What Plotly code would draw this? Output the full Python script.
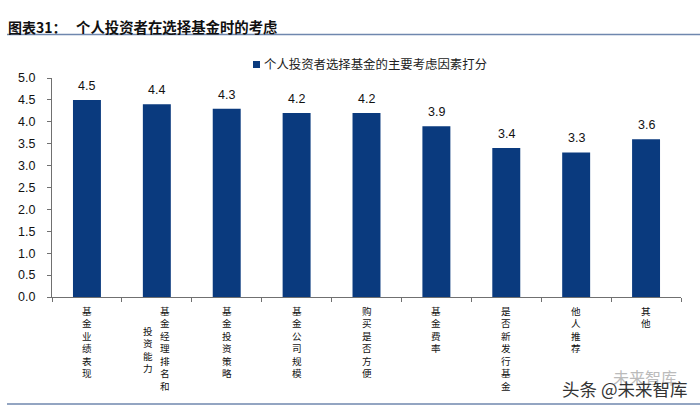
import plotly.graph_objects as go

categories = ["基金业绩表现", "基金经理排名和投资能力", "基金投资策略", "基金公司规模", "购买是否方便",
              "基金费率", "是否新发行基金", "他人推荐", "其他"]
label_main = ["基金业绩表现", "基金经理排名和", "基金投资策略", "基金公司规模", "购买是否方便",
              "基金费率", "是否新发行基金", "他人推荐", "其他"]
values = [4.5, 4.4, 4.3, 4.2, 4.2, 3.9, 3.4, 3.3, 3.6]
series_name = "个人投资者选择基金的主要考虑因素打分"
y_ticks = [0, 0.5, 1, 1.5, 2, 2.5, 3, 3.5, 4, 4.5, 5]

CJK = "Noto Sans CJK SC"
LAT = "Liberation Sans"
W, H = 700, 408
L, R, T, B = 52, 19, 78, 111
BAR = "#0A3A7E"
vert = lambda s: "<br>".join(s)
px = lambda v: (v - L) / (W - L - R)
py = lambda v: 1 - (v - T) / (H - T - B)

fig = go.Figure(go.Bar(x=categories, y=values, name=series_name, marker_color=BAR,
                       marker_line_width=0, showlegend=False))

ann = []
for c, m, v in zip(categories, label_main, values):
    two = m != c
    ann.append(dict(x=c, y=v, xref="x", yref="y", yanchor="bottom", xanchor="center", showarrow=False,
                    text=f"{v:.1f}", yshift=5, font=dict(family=LAT, size=12.5, color="#111111")))
    ann.append(dict(x=c, y=0, xref="x", yref="paper", yanchor="top", xanchor="center",
                    text=vert(m), showarrow=False, yshift=-5, xshift=8 if two else 0,
                    font=dict(family=CJK, size=9.6, color="#111111")))
    if two:
        ann.append(dict(x=c, y=0, xref="x", yref="paper", yanchor="top", xanchor="center",
                        text=vert(c[len(m):]), showarrow=False, yshift=-25, xshift=-9,
                        font=dict(family=CJK, size=9.6, color="#111111")))


def page_text(x, y, text, size, color, anchor="left", family=CJK):
    return dict(x=px(x), y=py(y), xref="paper", yref="paper", xanchor=anchor, yanchor="middle",
                showarrow=False, text=text, font=dict(family=family, size=size, color=color))


ann += [
    page_text(6, 27, "<b>图表31：</b>", 14, "#111111"),
    page_text(74, 27, "<b>个人投资者在选择基金时的考虑</b>", 14.4, "#111111"),
    page_text(262, 64, series_name, 12.4, "#222222"),
    page_text(645, 377, "未来智库", 16, "#BBBBBB", "center"),
    page_text(624, 388, "头条 @未来智库", 17.5, "#333333", "center"),
]

line_y = [34.5, 404]
shapes = [dict(type="line", xref="paper", yref="paper", x0=px(7), x1=px(W), y0=py(v), y1=py(v),
               line=dict(color="#6F87AE", width=1.5)) for v in line_y]
shapes.append(dict(type="rect", xref="paper", yref="paper", x0=px(253), x1=px(260), y0=py(68), y1=py(61),
                   fillcolor=BAR, line_width=0))

fig.update_layout(
    width=W, height=H, autosize=False, margin=dict(l=L, r=R, t=T, b=B),
    paper_bgcolor="white", plot_bgcolor="white", bargap=0.6,
    font=dict(family=CJK), showlegend=False,
    annotations=ann, shapes=shapes,
    xaxis=dict(type="category", range=[-0.5, 8.5], tickson="boundaries", ticks="outside", ticklen=4,
               tickcolor="#707070", linecolor="#707070", linewidth=1, showline=True, showticklabels=False,
               showgrid=False, zeroline=False, fixedrange=True),
    yaxis=dict(range=[0, 5], tickvals=y_ticks, tickformat=".1f", ticks="outside", ticklen=4, tickcolor="#707070",
               linecolor="#707070", linewidth=1, showline=True, showgrid=False, zeroline=False, ticklabelstandoff=9,
               tickfont=dict(family=LAT, size=12.5, color="#111111"), fixedrange=True),
)
fig.write_html("out.html", config={"displayModeBar": False},
               post_script="document.body.style.margin='0';")
